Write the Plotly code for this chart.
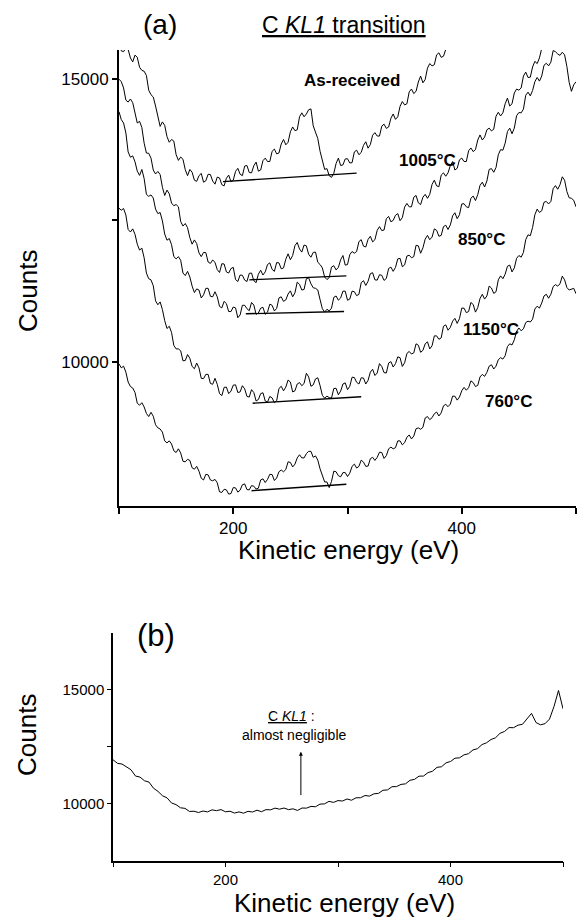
import plotly.graph_objects as go

# ---------------- data ----------------
# energy grid (eV) for the panel (a) spectra, 2 eV step
ENERGY_A = [100, 102, 104, 106, 108, 110, 112, 114, 116, 118, 120, 122, 124, 126, 128, 130, 132, 134, 136, 138,
            140, 142, 144, 146, 148, 150, 152, 154, 156, 158, 160, 162, 164, 166, 168, 170, 172, 174, 176, 178,
            180, 182, 184, 186, 188, 190, 192, 194, 196, 198, 200, 202, 204, 206, 208, 210, 212, 214, 216, 218,
            220, 222, 224, 226, 228, 230, 232, 234, 236, 238, 240, 242, 244, 246, 248, 250, 252, 254, 256, 258,
            260, 262, 264, 266, 268, 270, 272, 274, 276, 278, 280, 282, 284, 286, 288, 290, 292, 294, 296, 298,
            300, 302, 304, 306, 308, 310, 312, 314, 316, 318, 320, 322, 324, 326, 328, 330, 332, 334, 336, 338,
            340, 342, 344, 346, 348, 350, 352, 354, 356, 358, 360, 362, 364, 366, 368, 370, 372, 374, 376, 378,
            380, 382, 384, 386, 388, 390, 392, 394, 396, 398, 400, 402, 404, 406, 408, 410, 412, 414, 416, 418,
            420, 422, 424, 426, 428, 430, 432, 434, 436, 438, 440, 442, 444, 446, 448, 450, 452, 454, 456, 458,
            460, 462, 464, 466, 468, 470, 472, 474, 476, 478, 480, 482, 484, 486, 488, 490, 492, 494, 496, 498,
            500]

AS_RECEIVED = [15650, 15495, 15480, 15550, 15520, 15370, 15300, 15420, 15380, 15205,
               15150, 15135, 15060, 14800, 14720, 14680, 14520, 14310, 14160, 14240,
               14180, 13980, 13880, 13930, 13900, 13660, 13560, 13620, 13580, 13395,
               13290, 13400, 13350, 13210, 13190, 13290, 13330, 13175, 13200, 13315,
               13310, 13195, 13140, 13265, 13250, 13130, 13110, 13245, 13300, 13185,
               13210, 13365, 13420, 13315, 13290, 13460, 13470, 13345, 13340, 13465,
               13530, 13370, 13390, 13555, 13600, 13540, 13540, 13720, 13760, 13675,
               13690, 13850, 13930, 13835, 13880, 14065, 14150, 14085, 14100, 14330,
               14400, 14330, 14380, 14455, 14470, 14170, 14050, 13945, 13720, 13530,
               13400, 13415, 13290, 13260, 13330, 13505, 13600, 13470, 13480, 13585,
               13590, 13515, 13520, 13710, 13740, 13660, 13700, 13825, 13890, 13775,
               13840, 14005, 14050, 13990, 13990, 14165, 14200, 14125, 14150, 14305,
               14380, 14285, 14330, 14515, 14600, 14540, 14560, 14770, 14820, 14740,
               14780, 14945, 15050, 14930, 14990, 15190, 15270, 15230, 15250, 15425,
               15460, 15380, 15400, 15520, 15560, 15520, 15620]

T1005 = [14995, 14950, 14840, 14625, 14590, 14645, 14580, 14370, 14220, 14250,
         14140, 13865, 13690, 13685, 13600, 13390, 13320, 13365, 13310, 13085,
         12940, 13035, 12970, 12805, 12760, 12780, 12740, 12480, 12400, 12445,
         12370, 12195, 12080, 12155, 12090, 11925, 11860, 11935, 11930, 11765,
         11740, 11800, 11760, 11630, 11580, 11735, 11730, 11590, 11570, 11650,
         11670, 11455, 11420, 11535, 11530, 11445, 11420, 11565, 11570, 11435,
         11400, 11550, 11620, 11535, 11590, 11720, 11750, 11635, 11600, 11755,
         11750, 11645, 11660, 11815, 11910, 11805, 11880, 12055, 12110, 11995,
         11940, 12065, 12050, 11900, 11850, 11935, 11940, 11760, 11720, 11660,
         11500, 11455, 11490, 11675, 11700, 11625, 11670, 11805, 11880, 11710,
         11720, 11895, 11950, 11920, 11950, 12125, 12160, 12045, 12030, 12165,
         12220, 12120, 12160, 12325, 12390, 12320, 12330, 12530, 12570, 12475,
         12500, 12590, 12620, 12495, 12550, 12735, 12800, 12740, 12740, 12910,
         12940, 12810, 12780, 12910, 12960, 12890, 12960, 13135, 13210, 13110,
         13095, 13300, 13340, 13280, 13340, 13470, 13540, 13390, 13420, 13570,
         13600, 13540, 13540, 13730, 13780, 13715, 13750, 13920, 14010, 13920,
         13970, 14100, 14130, 14080, 14110, 14340, 14410, 14345, 14400, 14560,
         14660, 14520, 14560, 14750, 14820, 14800, 14840, 15050, 15120, 15025,
         15030, 15210, 15310, 15270, 15370, 15540, 15610, 15615, 15700]

T850 = [14420, 14280, 14220, 14045, 13710, 13615, 13640, 13535, 13370, 13295,
        13400, 13240, 12960, 12925, 12950, 12895, 12700, 12620, 12640, 12490,
        12260, 12150, 12180, 12070, 11860, 11820, 11860, 11795, 11570, 11525,
        11600, 11500, 11340, 11225, 11290, 11270, 11130, 11185, 11300, 11300,
        11160, 11150, 11240, 11150, 10980, 10955, 11070, 11030, 10890, 10890,
        10970, 10955, 10780, 10830, 11000, 11000, 10940, 10905, 11050, 11005,
        10840, 10865, 10950, 10965, 10840, 10880, 11020, 11000, 10900, 10945,
        11130, 11150, 11070, 11095, 11200, 11255, 11150, 11220, 11410, 11370,
        11270, 11280, 11470, 11485, 11380, 11310, 11300, 11270, 11100, 10940,
        10880, 10930, 10900, 10950, 11140, 11165, 11090, 11130, 11250, 11250,
        11090, 11110, 11250, 11240, 11170, 11195, 11400, 11435, 11350, 11425,
        11560, 11575, 11450, 11445, 11540, 11530, 11440, 11475, 11650, 11675,
        11600, 11670, 11820, 11830, 11680, 11715, 11870, 11885, 11840, 11860,
        12060, 12050, 11920, 12015, 12170, 12235, 12160, 12205, 12350, 12325,
        12220, 12235, 12390, 12415, 12340, 12420, 12580, 12635, 12530, 12600,
        12790, 12795, 12740, 12725, 12890, 12930, 12850, 12955, 13120, 13175,
        13090, 13195, 13400, 13415, 13350, 13435, 13660, 13750, 13740, 13865,
        14070, 14130, 14030, 14130, 14350, 14405, 14400, 14465, 14710, 14765,
        14700, 14795, 14950, 15025, 14960, 15050, 15240, 15275, 15230, 15295,
        15500, 15480, 15440, 15415, 15470, 15425, 15220, 14940, 14780, 14895,
        14950]

T1150 = [12715, 12680, 12710, 12595, 12340, 12295, 12350, 12255, 12080, 11975,
         12010, 11840, 11570, 11470, 11450, 11345, 11080, 11010, 11060, 10925,
         10730, 10590, 10630, 10520, 10290, 10230, 10230, 10195, 10020, 10025,
         10130, 10065, 9920, 9880, 9980, 9895, 9710, 9705, 9780, 9780,
         9620, 9605, 9710, 9605, 9440, 9405, 9550, 9555, 9440, 9485,
         9590, 9595, 9460, 9470, 9580, 9525, 9390, 9380, 9510, 9460,
         9310, 9335, 9440, 9455, 9310, 9290, 9390, 9365, 9280, 9315,
         9530, 9570, 9490, 9555, 9680, 9645, 9470, 9490, 9610, 9635,
         9580, 9620, 9800, 9735, 9570, 9595, 9700, 9720, 9580, 9410,
         9360, 9395, 9370, 9360, 9530, 9535, 9420, 9485, 9610, 9630,
         9510, 9570, 9730, 9725, 9640, 9610, 9720, 9715, 9610, 9675,
         9820, 9870, 9760, 9805, 9970, 9920, 9810, 9805, 9980, 10005,
         9910, 9970, 10090, 10075, 9920, 9985, 10150, 10185, 10140, 10160,
         10320, 10295, 10170, 10205, 10320, 10355, 10230, 10285, 10460, 10460,
         10400, 10425, 10630, 10655, 10560, 10610, 10720, 10770, 10680, 10765,
         10950, 10950, 10870, 10890, 11050, 11015, 10880, 10960, 11120, 11195,
         11110, 11165, 11340, 11305, 11210, 11240, 11450, 11520, 11470, 11550,
         11690, 11710, 11590, 11660, 11830, 11880, 11850, 11935, 12160, 12245,
         12230, 12375, 12600, 12700, 12640, 12670, 12820, 12835, 12790, 12835,
         13060, 13115, 13050, 13130, 13270, 13210, 13010, 12900, 12890, 12855,
         12740]

T760 = [9965, 9895, 9925, 9820, 9645, 9565, 9540, 9460, 9270, 9235,
        9280, 9205, 9090, 9035, 9110, 9040, 8890, 8835, 8815, 8760,
        8605, 8570, 8605, 8550, 8430, 8400, 8465, 8390, 8245, 8235,
        8280, 8260, 8130, 8105, 8155, 8070, 7945, 7915, 8015, 8005,
        7915, 7900, 7925, 7865, 7705, 7695, 7750, 7740, 7665, 7675,
        7780, 7775, 7700, 7735, 7830, 7845, 7745, 7740, 7815, 7805,
        7755, 7770, 7915, 7935, 7870, 7925, 8015, 8010, 7905, 7950,
        8060, 8090, 8060, 8100, 8235, 8225, 8145, 8195, 8305, 8360,
        8305, 8305, 8380, 8420, 8420, 8315, 8340, 8265, 8110, 7975,
        7880, 7880, 7780, 7890, 8070, 8060, 7990, 7970, 8045, 8045,
        7975, 8035, 8155, 8195, 8125, 8155, 8265, 8230, 8155, 8160,
        8290, 8315, 8260, 8315, 8405, 8400, 8295, 8345, 8465, 8495,
        8465, 8485, 8605, 8605, 8535, 8575, 8670, 8710, 8640, 8690,
        8820, 8835, 8810, 8845, 9010, 9035, 8980, 9015, 9085, 9115,
        9045, 9100, 9225, 9250, 9210, 9255, 9395, 9395, 9325, 9380,
        9490, 9550, 9500, 9545, 9665, 9635, 9565, 9585, 9735, 9780,
        9745, 9815, 9925, 9950, 9875, 9925, 10040, 10075, 10050, 10110,
        10270, 10320, 10300, 10390, 10540, 10600, 10550, 10585, 10695, 10720,
        10705, 10755, 10935, 10985, 10950, 11040, 11165, 11195, 11125, 11195,
        11330, 11365, 11340, 11380, 11515, 11450, 11315, 11270, 11285, 11300,
        11205]

# energy grid (eV) for the panel (b) spectrum, 4 eV step
ENERGY_B = [100, 104, 108, 112, 116, 120, 124, 128, 132, 136, 140, 144, 148, 152, 156, 160, 164, 168, 172, 176,
            180, 184, 188, 192, 196, 200, 204, 208, 212, 216, 220, 224, 228, 232, 236, 240, 244, 248, 252, 256,
            260, 264, 268, 272, 276, 280, 284, 288, 292, 296, 300, 304, 308, 312, 316, 320, 324, 328, 332, 336,
            340, 344, 348, 352, 356, 360, 364, 368, 372, 376, 380, 384, 388, 392, 396, 400, 404, 408, 412, 416,
            420, 424, 428, 432, 436, 440, 444, 448, 452, 456, 460, 464, 468, 472, 476, 480, 484, 488, 492, 496, 500]

PANEL_B = [11925, 11770, 11740, 11615, 11490, 11215, 11170, 11010, 10950, 10685,
           10545, 10355, 10265, 10040, 9970, 9830, 9805, 9670, 9680, 9625,
           9690, 9650, 9740, 9705, 9750, 9655, 9680, 9600, 9650, 9595,
           9675, 9645, 9725, 9660, 9750, 9740, 9815, 9770, 9820, 9750,
           9785, 9715, 9820, 9815, 9890, 9875, 9990, 10000, 10110, 10065,
           10145, 10125, 10215, 10160, 10265, 10270, 10365, 10340, 10440, 10460,
           10595, 10610, 10750, 10755, 10850, 10875, 11030, 11070, 11210, 11215,
           11365, 11425, 11595, 11620, 11790, 11850, 11995, 12010, 12140, 12190,
           12355, 12410, 12590, 12665, 12810, 12885, 13080, 13160, 13330, 13325,
           13435, 13475, 13735, 13950, 13550, 13450, 13500, 13700, 14250, 14950, 14150]

# background (linear) lines under the C KL1 peak: [E0, E1], [counts0, counts1]
BASE_AS_RECEIVED = ([191, 308], [13185, 13335])
BASE_1005 = ([214, 299], [11450, 11520])
BASE_850 = ([211, 297], [10850, 10890])
BASE_1150 = ([217, 312], [9270, 9385])
BASE_760 = ([216, 299], [7725, 7840])

CURVE_LABELS = ["As-received", "1005°C", "850°C", "1150°C", "760°C"]
LABEL_E = [304, 370, 417, 426, 441]
LABEL_COUNTS = [14965, 13550, 12155, 10565, 9298]

X_TICKS = [100, 200, 300, 400, 500]
X_TICKTEXT = ["", "200", "", "400", ""]
YA_TICKS = [10000, 12500, 15000]
YA_TICKTEXT = ["10000", "", "15000"]
YB_TICKS = [10000, 12500, 15000]
YB_TICKTEXT = ["10000", "", "15000"]

# ---------------- figure ----------------
FONT = "Liberation Sans, Arial, sans-serif"
W, H = 581, 917

fig = go.Figure()

for vals in [AS_RECEIVED, T1005, T850, T1150, T760]:
    fig.add_trace(go.Scatter(x=ENERGY_A[:len(vals)], y=vals, mode="lines",
                             line=dict(color="black", width=1),
                             xaxis="x", yaxis="y", showlegend=False, hoverinfo="skip"))

for bx, by in [BASE_AS_RECEIVED, BASE_1005, BASE_850, BASE_1150, BASE_760]:
    fig.add_trace(go.Scatter(x=bx, y=by, mode="lines",
                             line=dict(color="black", width=1.4),
                             xaxis="x", yaxis="y", showlegend=False, hoverinfo="skip"))

fig.add_trace(go.Scatter(x=ENERGY_B[:len(PANEL_B)], y=PANEL_B, mode="lines",
                         line=dict(color="black", width=1),
                         xaxis="x2", yaxis="y2", showlegend=False, hoverinfo="skip"))

axis_common = dict(showline=True, linecolor="black", showgrid=False, zeroline=False,
                   ticks="outside", tickcolor="black", mirror=False)

fig.update_layout(
    width=W, height=H,
    margin=dict(l=0, r=0, t=0, b=0),
    paper_bgcolor="white", plot_bgcolor="white",
    font=dict(family=FONT, color="black"),
    xaxis=dict(domain=[119 / W, 576 / W], range=[100, 500], anchor="y",
               tickvals=X_TICKS, ticktext=X_TICKTEXT, tickfont=dict(size=17),
               linewidth=2, ticklen=6, tickwidth=1.5, **axis_common),
    yaxis=dict(domain=[(H - 506) / H, (H - 50) / H], range=[7455, 15510], anchor="x",
               tickvals=YA_TICKS, ticktext=YA_TICKTEXT, tickfont=dict(size=17),
               linewidth=2, ticklen=5, tickwidth=1.5, **axis_common),
    xaxis2=dict(domain=[113 / W, 563 / W], range=[100, 500], anchor="y2",
                tickvals=X_TICKS, ticktext=X_TICKTEXT, tickfont=dict(size=15),
                linewidth=1.5, ticklen=5, tickwidth=1.2, **axis_common),
    yaxis2=dict(domain=[(H - 860.5) / H, (H - 632.7) / H], range=[7530, 17470], anchor="x2",
                tickvals=YB_TICKS, ticktext=YB_TICKTEXT, tickfont=dict(size=15),
                linewidth=1.5, ticklen=4, tickwidth=1.2, **axis_common),
)


def note(x, y, text, size, xref="paper", yref="paper", angle=0):
    if xref == "paper":
        x = x / W
    if yref == "paper":
        y = 1 - y / H
    return dict(x=x, y=y, xref=xref, yref=yref, text=text, textangle=angle,
                xanchor="center", yanchor="middle", showarrow=False,
                font=dict(size=size, family=FONT, color="black"))


ann = []
# curve labels
for txt, ex, cy in zip(CURVE_LABELS, LABEL_E, LABEL_COUNTS):
    ann.append(note(ex, cy, "<b>%s</b>" % txt, 17, xref="x", yref="y"))

# panel titles
ann.append(note(160, 25, "(a)", 28))
ann.append(note(344, 25, "<u>C <i>KL1</i> transition</u>", 23))
ann.append(note(156, 635, "(b)", 31))

# axis titles
ann.append(note(28, 291, "Counts", 26, angle=-90))
ann.append(note(348, 550, "Kinetic energy (eV)", 26))
ann.append(note(27, 735, "Counts", 26, angle=-90))
ann.append(note(344, 903, "Kinetic energy (eV)", 26))

# panel (b) annotation
ann.append(note(259, 13836, "<u>C <i>KL1</i></u> :", 14, xref="x2", yref="y2"))
ann.append(note(261, 13007, "almost negligible", 14, xref="x2", yref="y2"))
ann.append(dict(x=267, y=12280, xref="x2", yref="y2", ax=267, ay=10318,
                axref="x2", ayref="y2", text="", showarrow=True,
                arrowhead=2, arrowsize=0.8, arrowwidth=1, arrowcolor="black"))

fig.update_layout(annotations=ann)

fig.write_html("out.html")
